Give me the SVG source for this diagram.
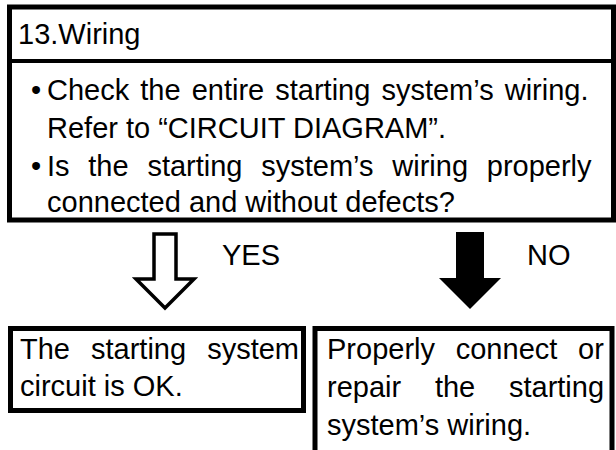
<svg xmlns="http://www.w3.org/2000/svg" width="616" height="450" viewBox="0 0 616 450">
<style>
.t{font-family:"Liberation Sans",Arial,sans-serif;font-size:29px;fill:#000}
.box{fill:#fff;stroke:#000;stroke-width:5}
.ln{stroke:#000;stroke-width:4;fill:none}
</style>
<rect width="616" height="450" fill="#fff"/>
<g id="node-check">
<rect class="box" x="9.5" y="7" width="604" height="213"/>
<line class="ln" x1="9" y1="61" x2="613" y2="61"/>
<text class="t" x="18" y="44">13.Wiring</text>
<text class="t" x="31" y="100">•</text>
<text class="t" x="47" y="100" word-spacing="3">Check the entire starting system’s wiring.</text>
<text class="t" x="47" y="138">Refer to “CIRCUIT DIAGRAM”.</text>
<text class="t" x="31" y="176">•</text>
<text class="t" x="47" y="176" word-spacing="10.7">Is the starting system’s wiring properly</text>
<text class="t" x="47" y="212">connected and without defects?</text>
</g>
<g id="connectors">
<path d="M154,234 H176 V279 H194 L165,308 L136,279 H154 Z" fill="#fff" stroke="#000" stroke-width="3.5" stroke-linejoin="miter"/>
<text class="t" x="222" y="265">YES</text>
<path d="M456,232 H484 V278 H501 L470,309 L439,278 H456 Z" fill="#000"/>
<text class="t" x="527" y="265">NO</text>
</g>
<g id="node-ok">
<rect class="box" x="10.5" y="328.5" width="293" height="82"/>
<text class="t" x="20" y="359" word-spacing="13">The starting system</text>
<text class="t" x="20" y="396">circuit is OK.</text>
</g>
<g id="node-repair">
<path d="M315,452 V328.5 H612 V452" class="box"/>
<text class="t" x="327" y="359" word-spacing="12.7">Properly connect or</text>
<text class="t" x="327" y="397" word-spacing="25.7">repair the starting</text>
<text class="t" x="327" y="435">system’s wiring.</text>
</g>
</svg>
